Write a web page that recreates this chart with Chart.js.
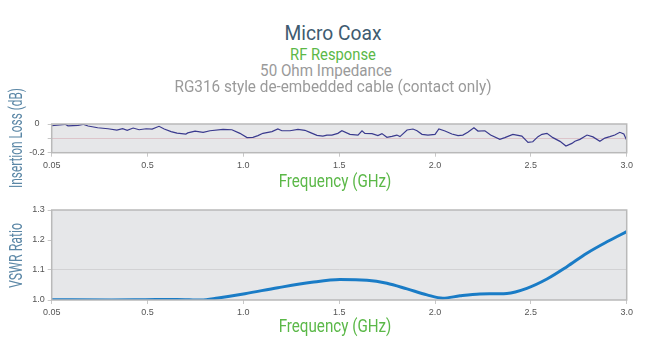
<!DOCTYPE html>
<html>
<head>
<meta charset="utf-8">
<script src="https://cdn.jsdelivr.net/npm/chart.js@4.4.1/dist/chart.umd.min.js"></script>
<style>
  body { margin: 0; background: #fff; width: 648px; height: 353px; overflow: hidden; position: relative; }
  .txt { position: absolute; left: 0; top: 0; white-space: nowrap; line-height: 1; font-family: Roboto, "Liberation Sans", sans-serif; transform-origin: 0 0; }
  #wrap1 { position: absolute; left: 0; top: 80px; width: 648px; height: 115px; }
  #wrap2 { position: absolute; left: 0; top: 195px; width: 648px; height: 158px; }
</style>
</head>
<body>
<div id="wrap1"><canvas id="chart1"></canvas></div>
<div id="wrap2"><canvas id="chart2"></canvas></div>
<div class="txt" id="t1">Micro Coax</div>
<div class="txt" id="t2">RF Response</div>
<div class="txt" id="t3">50 Ohm Impedance</div>
<div class="txt" id="t4">RG316 style de-embedded cable (contact only)</div>
<div class="txt" id="xt1">Frequency (GHz)</div>
<div class="txt" id="xt2">Frequency (GHz)</div>
<div class="txt" id="yt1">Insertion Loss (dB)</div>
<div class="txt" id="yt2">VSWR Ratio</div>
<script>
// x axis ticks (labels as printed on the chart)
var xTickValues = [0, 0.5, 1.0, 1.5, 2.0, 2.5, 3.0];
var xTickLabels = ['0.05', '0.5', '1.0', '1.5', '2.0', '2.5', '3.0'];

// insertion loss, dB
var ilFreq = [0.00, 0.07, 0.085, 0.137, 0.163, 0.19, 0.24, 0.294, 0.34, 0.37, 0.394, 0.425, 0.456, 0.493, 0.524, 0.56, 0.587, 0.623, 0.654, 0.70, 0.71, 0.748,
  0.79, 0.826, 0.894, 0.94, 0.982, 1.019, 1.05, 1.076, 1.102, 1.149, 1.18, 1.201, 1.243, 1.285, 1.321, 1.347, 1.384, 1.415, 1.436, 1.462, 1.493,
  1.514, 1.556, 1.598, 1.619, 1.634, 1.671, 1.702, 1.723, 1.749, 1.775, 1.801, 1.817, 1.854, 1.885, 1.906, 1.932, 1.963, 2.0, 2.02, 2.052, 2.088,
  2.12, 2.145, 2.171, 2.203, 2.224, 2.26, 2.29, 2.338, 2.364, 2.406, 2.453, 2.485, 2.51, 2.537, 2.558, 2.584, 2.615, 2.652, 2.683, 2.714, 2.73,
  2.756, 2.793, 2.824, 2.86, 2.886, 2.912, 2.938, 2.964, 2.985, 3.0];
var ilLoss = [-0.012, -0.002, -0.013, -0.009, -0.002, -0.014, -0.026, -0.033, -0.042, -0.033, -0.044, -0.028, -0.040, -0.033, -0.035, -0.016, -0.035, -0.053, -0.063, -0.070, -0.062, -0.050,
  -0.058, -0.047, -0.037, -0.040, -0.065, -0.095, -0.093, -0.081, -0.065, -0.053, -0.035, -0.047, -0.047, -0.037, -0.044, -0.058, -0.079, -0.084, -0.077, -0.077, -0.065,
  -0.047, -0.072, -0.077, -0.047, -0.065, -0.067, -0.081, -0.067, -0.093, -0.086, -0.077, -0.088, -0.042, -0.035, -0.047, -0.072, -0.077, -0.072, -0.035, -0.049, -0.070,
  -0.081, -0.077, -0.058, -0.026, -0.049, -0.047, -0.077, -0.107, -0.095, -0.072, -0.084, -0.128, -0.124, -0.088, -0.072, -0.065, -0.095, -0.121, -0.153, -0.135, -0.120,
  -0.107, -0.077, -0.090, -0.121, -0.098, -0.088, -0.077, -0.058, -0.070, -0.114];

// VSWR
var vswrFreq = [0.00, 0.313, 0.487, 0.654, 0.78, 0.868, 1.008, 1.18, 1.357, 1.504, 1.645, 1.749, 1.854, 1.958, 2.041, 2.13, 2.234, 2.375, 2.479, 2.584, 2.688, 2.792, 2.897, 3.0];
var vswrRatio = [1.001, 1.000, 1.001, 1.002, 1.000, 1.007, 1.021, 1.041, 1.059, 1.068, 1.066, 1.056, 1.037, 1.017, 1.006, 1.014, 1.020, 1.022, 1.039, 1.070, 1.111, 1.156, 1.194, 1.228];

// y ticks that carry a label, with the text printed
var ilTickValues = [0, -0.2];
var ilTickText = ['0', '-0.2'];
var vswrTickValues = [1.0, 1.1, 1.2, 1.3];
var vswrTickText = ['1.0', '1.1', '1.2', '1.3'];

var tickFont = { family: '"Liberation Sans", Arial, sans-serif', size: 9 };

// the original uses a condensed face; squeeze the text to its measured width
// [id, centre x, centre y, width, font size, colour, rotation]
var textLayout = [
  ['t1', 333, 33, 97, 21, '#405b70', 0],
  ['t2', 333, 54, 86, 17, '#5bb848', 0],
  ['t3', 326, 70, 132, 17, '#9a9a9a', 0],
  ['t4', 333, 86, 317, 17, '#9a9a9a', 0],
  ['xt1', 335, 181, 113, 18, '#5bb848', 0],
  ['xt2', 335, 326, 113, 18, '#5bb848', 0],
  ['yt1', 15.5, 138, 100, 18, '#5b87a6', -90],
  ['yt2', 15.5, 255.5, 65, 18, '#5b87a6', -90]
];

function placeText() {
  for (var i = 0; i < textLayout.length; i++) {
    var t = textLayout[i];
    var el = document.getElementById(t[0]);
    el.style.fontSize = t[4] + 'px';
    el.style.color = t[5];
    var w = el.offsetWidth;
    var sx = t[3] / w;
    el.style.transform = 'translate(' + t[1] + 'px,' + t[2] + 'px) rotate(' + t[6] + 'deg) scaleX(' + sx + ') translate(-50%,-50%)';
  }
}
placeText();

function toPoints(xs, ys) {
  var pts = [];
  for (var i = 0; i < xs.length; i++) {
    pts.push({ x: xs[i], y: ys[i] });
  }
  return pts;
}

// grey plot background plus frame
var plotBox = {
  id: 'plotBox',
  beforeDraw: function (chart) {
    var a = chart.chartArea;
    var ctx = chart.ctx;
    ctx.save();
    ctx.fillStyle = '#e6e7e9';
    ctx.fillRect(a.left, a.top, a.right - a.left, a.bottom - a.top);
    ctx.restore();
  },
  afterDatasetsDraw: function (chart) {
    var a = chart.chartArea;
    var ctx = chart.ctx;
    ctx.save();
    ctx.strokeStyle = '#b9b9b9';
    ctx.lineWidth = 1.5;
    ctx.strokeRect(a.left, a.top, a.right - a.left, a.bottom - a.top);
    ctx.restore();
  }
};

function xAxis(height) {
  return {
    type: 'linear',
    min: 0,
    max: 3,
    afterBuildTicks: function (scale) {
      scale.ticks = xTickValues.map(function (v) { return { value: v }; });
    },
    afterFit: function (scale) { scale.height = height; },
    ticks: {
      font: tickFont,
      color: '#555',
      padding: 3,
      maxRotation: 0,
      callback: function (v, i) { return xTickLabels[i]; }
    },
    grid: { drawOnChartArea: false, tickLength: 4, color: '#c8c8c8' },
    border: { display: false },
    title: { display: false }
  };
}

function yAxis(opts) {
  return {
    min: opts.min,
    max: opts.max,
    afterFit: function (scale) { scale.width = 49.7; },
    ticks: {
      stepSize: 0.1,
      font: tickFont,
      color: '#555',
      padding: 3,
      crossAlign: 'center',
      callback: function (v) {
        for (var i = 0; i < opts.values.length; i++) {
          if (Math.abs(opts.values[i] - v) < 1e-6) return opts.text[i];
        }
        return '';
      }
    },
    grid: {
      tickLength: 4,
      tickColor: '#c8c8c8',
      color: function (c) {
        return Math.abs(c.tick.value - opts.mid) < 1e-6 ? opts.midColor : 'rgba(0,0,0,0)';
      }
    },
    border: { display: false },
    title: { display: false }
  };
}

new Chart(document.getElementById('chart1'), {
  type: 'line',
  data: {
    datasets: [{
      data: toPoints(ilFreq, ilLoss),
      borderColor: '#3a3a8e',
      borderWidth: 1.2,
      pointRadius: 0,
      tension: 0
    }]
  },
  options: {
    responsive: true,
    maintainAspectRatio: false,
    animation: false,
    events: [],
    layout: { padding: { left: 2, right: 21.3, top: 44, bottom: 0 } },
    plugins: { legend: { display: false }, tooltip: { enabled: false } },
    scales: {
      x: xAxis(42.3),
      y: yAxis({ min: -0.2, max: 0, values: ilTickValues, text: ilTickText, mid: -0.1, midColor: '#dcc4ca' })
    }
  },
  plugins: [plotBox]
});

new Chart(document.getElementById('chart2'), {
  type: 'line',
  data: {
    datasets: [{
      data: toPoints(vswrFreq, vswrRatio),
      borderColor: '#1a7cc6',
      borderWidth: 3,
      pointRadius: 0,
      cubicInterpolationMode: 'monotone'
    }]
  },
  options: {
    responsive: true,
    maintainAspectRatio: false,
    animation: false,
    events: [],
    layout: { padding: { left: 2, right: 21.3, top: 15, bottom: 13.8 } },
    plugins: { legend: { display: false }, tooltip: { enabled: false } },
    scales: {
      x: xAxis(39.2),
      y: yAxis({ min: 1.0, max: 1.3, values: vswrTickValues, text: vswrTickText, mid: 1.1, midColor: '#d2d2d4' })
    }
  },
  plugins: [plotBox]
});
</script>
</body>
</html>
